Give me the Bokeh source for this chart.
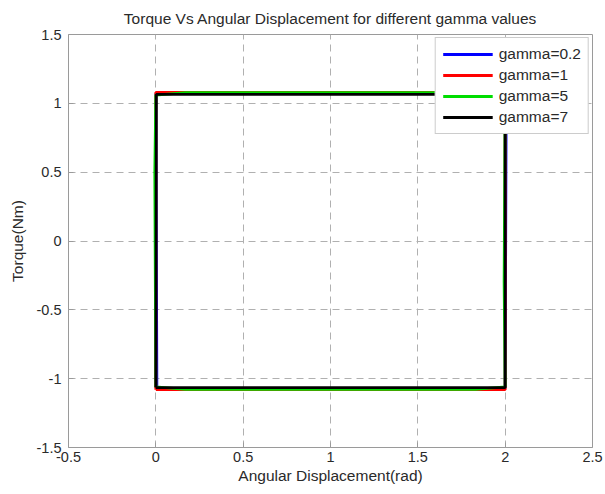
from bokeh.plotting import figure
from bokeh.models import FixedTicker, Legend, LegendItem, Range1d
from bokeh.embed import file_html
from bokeh.resources import INLINE

# Hysteresis loops (angular displacement in rad, torque in Nm) per gamma value
labels = ["gamma=0.2", "gamma=1", "gamma=5", "gamma=7"]
colors = ["#0000ff", "#ff0000", "#00dd00", "#000000"]

disp_g02 = [0.006, 0.0, 2.0, 2.006, 2.0, 0.006]
torque_g02 = [-1.07, 1.07, 1.07, 1.07, -1.07, -1.07]

disp_g1 = [0.0, 0.0, 2.0, 2.0, 0.0]
torque_g1 = [-1.08, 1.08, 1.08, -1.08, -1.08]

disp_g5 = [0.0, -0.006, 0.0, 0.17, 2.0, 2.0, 1.994, 2.0, 1.83, 0.17, 0.0]
torque_g5 = [-1.06, 0.5, 1.06, 1.078, 1.078, 1.06, -0.3, -1.06, -1.078, -1.078, -1.06]

disp_g7 = [0.0, 0.003, 2.0, 2.0, 0.0]
torque_g7 = [-1.065, 1.065, 1.065, -1.065, -1.065]

series_x = [disp_g02, disp_g1, disp_g5, disp_g7]
series_y = [torque_g02, torque_g1, torque_g5, torque_g7]

x_ticks = [-0.5, 0, 0.5, 1, 1.5, 2, 2.5]
y_ticks = [-1.5, -1, -0.5, 0, 0.5, 1, 1.5]

FONT = "Liberation Sans"
TEXT = "#2a2a2a"

p = figure(width=605, height=494, output_backend="svg", toolbar_location=None,
           x_range=Range1d(-0.5, 2.5), y_range=Range1d(-1.5, 1.5),
           title="Torque Vs Angular Displacement for different gamma values",
           min_border_left=68, min_border_right=13, min_border_top=8, min_border_bottom=47)

p.title.text_font = FONT
p.title.text_font_size = "15.5px"
p.title.text_font_style = "normal"
p.title.text_color = TEXT
p.title.align = "center"
p.title.offset = 0
p.title.standoff = 15

p.outline_line_color = "#9a9a9a"
p.outline_line_width = 1
p.background_fill_color = "white"
p.border_fill_color = "white"

for ax, ticks in ((p.xaxis, x_ticks), (p.yaxis, y_ticks)):
    ax.ticker = FixedTicker(ticks=ticks)
    ax.major_label_overrides = {t: ("%g" % t) for t in ticks}
    ax.major_label_text_font = FONT
    ax.major_label_text_font_size = "14.5px"
    ax.major_label_text_color = TEXT
    ax.axis_label_text_font = FONT
    ax.axis_label_text_font_size = "15.5px"
    ax.axis_label_text_font_style = "normal"
    ax.axis_label_text_color = TEXT
    ax.axis_line_color = None
    ax.major_tick_line_color = "#9a9a9a"
    ax.major_tick_in = 5
    ax.major_tick_out = 0
    ax.minor_tick_line_color = None

p.xaxis.axis_label = "Angular Displacement(rad)"
p.yaxis.axis_label = "Torque(Nm)"
p.xaxis.major_label_standoff = 4
p.yaxis.major_label_standoff = 7
p.xaxis.axis_label_standoff = 2
p.yaxis.axis_label_standoff = 8

p.grid.grid_line_color = "#b0b0b0"
p.grid.grid_line_dash = "7 5"
p.grid.grid_line_width = 1

renderers = []
for xs, ys, c in zip(series_x, series_y, colors):
    r = p.line(xs, ys, line_color=c, line_width=2.8)
    renderers.append(r)

legend = Legend(items=[LegendItem(label=l, renderers=[r]) for l, r in zip(labels, renderers)],
                location="top_right")
legend.label_text_font = FONT
legend.label_text_font_size = "15.5px"
legend.label_text_color = TEXT
legend.glyph_width = 50
legend.glyph_height = 18
legend.label_height = 18
legend.spacing = 3
legend.label_standoff = 6
legend.padding = 7
legend.margin = 3
legend.border_line_color = "#9a9a9a"
legend.background_fill_color = "white"
legend.background_fill_alpha = 1.0
p.add_layout(legend)

open("out.html", "w").write(file_html(p, INLINE))
